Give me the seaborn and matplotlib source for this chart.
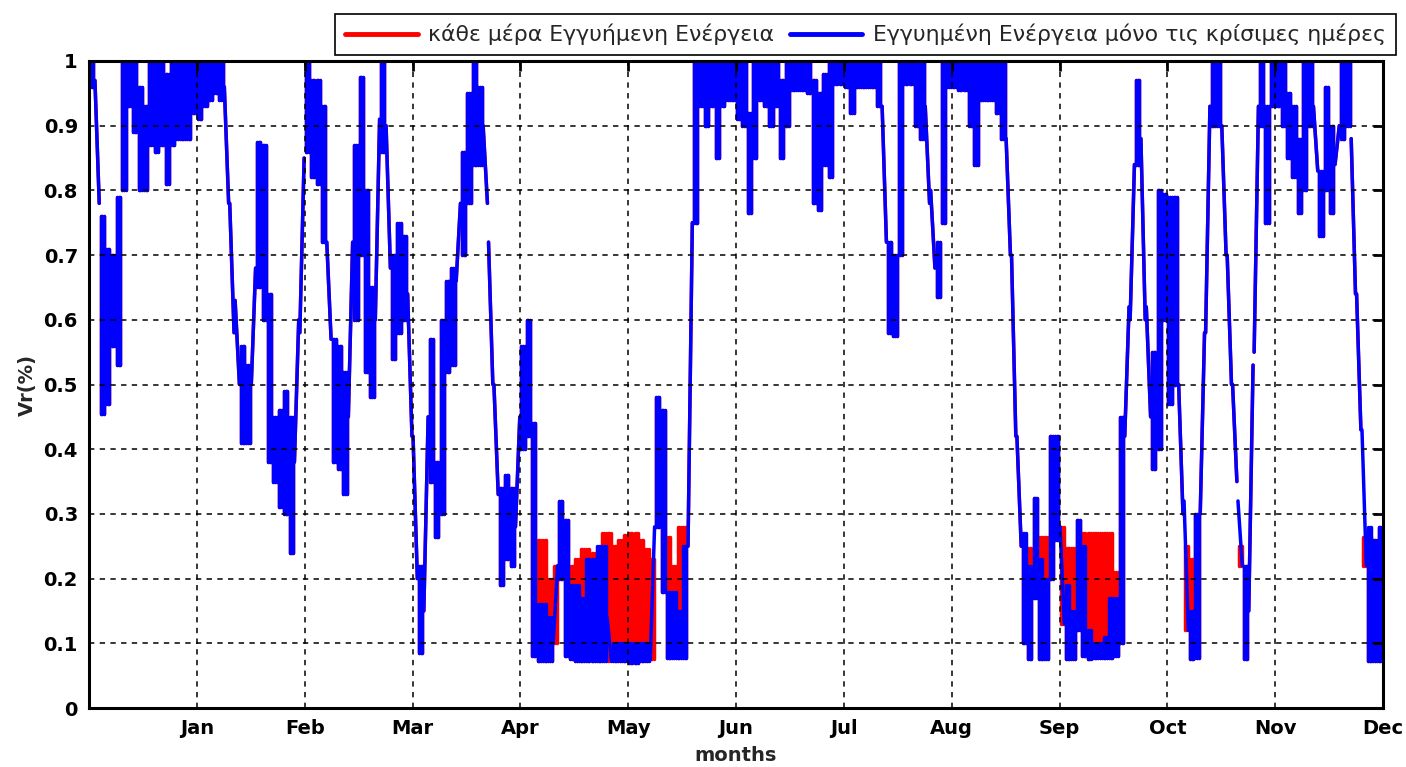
import numpy as np
import pandas as pd
import matplotlib
matplotlib.use("Agg")
import matplotlib.pyplot as plt
import seaborn as sns

# ---------------- data ----------------
months = ['Jan', 'Feb', 'Mar', 'Apr', 'May', 'Jun',
          'Jul', 'Aug', 'Sep', 'Oct', 'Nov', 'Dec']
month_ticks = [1, 2, 3, 4, 5, 6, 7, 8, 9, 10, 11, 12]
y_ticks = [0, 0.1, 0.2, 0.3, 0.4, 0.5, 0.6, 0.7, 0.8, 0.9, 1.0]
y_tick_labels = ['0', '0.1', '0.2', '0.3', '0.4', '0.5', '0.6', '0.7', '0.8', '0.9', '1']

label_red = 'κάθε μέρα Εγγυήμενη Ενέργεια'
label_blue = 'Εγγυημένη Ενέργεια μόνο τις κρίσιμες ημέρες'

bin_width = 0.05  # months per reading bin

# upper envelope of the blue trace in each 0.05-month bin
blue_hi = [
    1.0, 0.97, 0.76, 0.71, 0.70, 0.79, 1.0, 1.0, 1.0, 0.96, 0.93, 1.0, 1.0, 1.0, 0.98, 1.0, 1.0, 1.0, 1.0, 1.0,
    1.0, 1.0, 1.0, 1.0, 1.0, 0.96, 0.78, 0.63, 0.56, 0.53, 0.68, 0.875, 0.87, 0.64, 0.45, 0.46, 0.49, 0.45, 0.6, 0.85,
    1.0, 0.97, 0.97, 0.93, 0.72, 0.57, 0.56, 0.52, 0.72, 0.87, 0.975, 0.8, 0.65, 0.91, 1.0, 0.9, 0.7, 0.75, 0.73, 0.64,
    0.42, 0.22, 0.45, 0.57, 0.38, 0.6, 0.66, 0.68, 0.78, 0.86, 0.95, 1.0, 0.96, 0.9, 0.72, 0.5, 0.34, 0.36, 0.34, 0.45,
    0.56, 0.6, 0.44, 0.16, 0.16, 0.14, 0.22, 0.32, 0.29, 0.19, 0.19, 0.17, 0.23, 0.23, 0.25, 0.25, 0.14, 0.1, 0.1, 0.1,
    0.1, 0.1, 0.1, 0.1, 0.28, 0.48, 0.46, 0.18, 0.18, 0.15, 0.25, 0.75, 1.0, 1.0, 1.0, 1.0, 1.0, 1.0, 1.0, 1.0,
    1.0, 1.0, 0.92, 1.0, 1.0, 1.0, 1.0, 1.0, 0.97, 1.0, 1.0, 1.0, 1.0, 1.0, 0.97, 0.95, 0.98, 1.0, 1.0, 1.0,
    1.0, 1.0, 1.0, 1.0, 1.0, 1.0, 1.0, 0.93, 0.72, 0.7, 1.0, 1.0, 1.0, 1.0, 1.0, 0.93, 0.8, 0.72, 1.0, 1.0,
    1.0, 1.0, 1.0, 1.0, 1.0, 1.0, 1.0, 1.0, 1.0, 1.0, 0.88, 0.7, 0.42, 0.27, 0.22, 0.325, 0.23, 0.2, 0.42, 0.42,
    0.28, 0.19, 0.15, 0.29, 0.25, 0.12, 0.1, 0.1, 0.11, 0.17, 0.17, 0.45, 0.62, 0.84, 0.97, 0.88, 0.62, 0.55, 0.8, 0.795,
    0.79, 0.79, 0.5, 0.32, 0.15, 0.3, 0.58, 0.93, 1.0, 1.0, 0.9, 0.7, 0.5, 0.32, 0.22, 0.53, 0.93, 1.0, 0.93, 1.0,
    1.0, 1.0, 0.95, 0.93, 0.88, 1.0, 1.0, 0.93, 0.83, 0.96, 0.9, 0.9, 1.0, 1.0, 0.88, 0.64, 0.43, 0.28, 0.26, 0.28,
]

# lower envelope of the blue trace in each bin
blue_lo = [
    0.96, 0.78, 0.455, 0.47, 0.56, 0.53, 0.8, 0.93, 0.89, 0.8, 0.8, 0.87, 0.86, 0.87, 0.81, 0.87, 0.88, 0.88, 0.88, 0.92,
    0.91, 0.93, 0.94, 0.95, 0.94, 0.78, 0.58, 0.5, 0.41, 0.41, 0.5, 0.65, 0.6, 0.38, 0.35, 0.31, 0.3, 0.24, 0.38, 0.58,
    0.86, 0.82, 0.81, 0.72, 0.57, 0.38, 0.37, 0.33, 0.45, 0.6, 0.7, 0.52, 0.48, 0.6, 0.86, 0.68, 0.54, 0.58, 0.6, 0.42,
    0.2, 0.085, 0.15, 0.35, 0.265, 0.3, 0.52, 0.53, 0.66, 0.7, 0.78, 0.84, 0.84, 0.78, 0.5, 0.33, 0.19, 0.23, 0.22, 0.28,
    0.4, 0.42, 0.08, 0.072, 0.072, 0.072, 0.1, 0.2, 0.08, 0.075, 0.072, 0.072, 0.072, 0.072, 0.072, 0.072, 0.072, 0.072, 0.072, 0.072,
    0.07, 0.07, 0.072, 0.072, 0.075, 0.28, 0.18, 0.078, 0.078, 0.078, 0.078, 0.25, 0.75, 0.93, 0.9, 0.93, 0.85, 0.93, 0.94, 0.94,
    0.91, 0.9, 0.765, 0.85, 0.94, 0.93, 0.9, 0.93, 0.85, 0.9, 0.955, 0.955, 0.955, 0.95, 0.78, 0.77, 0.84, 0.82, 0.965, 0.965,
    0.96, 0.92, 0.96, 0.96, 0.96, 0.96, 0.93, 0.72, 0.58, 0.575, 0.7, 0.965, 0.965, 0.9, 0.88, 0.78, 0.68, 0.635, 0.75, 0.96,
    0.96, 0.955, 0.955, 0.9, 0.84, 0.94, 0.94, 0.94, 0.92, 0.88, 0.7, 0.42, 0.25, 0.1, 0.075, 0.17, 0.075, 0.075, 0.2, 0.26,
    0.13, 0.075, 0.075, 0.12, 0.08, 0.075, 0.078, 0.078, 0.078, 0.078, 0.08, 0.1, 0.42, 0.6, 0.84, 0.6, 0.45, 0.37, 0.4, 0.6,
    0.47, 0.5, 0.3, 0.12, 0.075, 0.078, 0.3, 0.58, 0.9, 0.9, 0.7, 0.5, 0.35, 0.22, 0.075, 0.15, 0.55, 0.9, 0.75, 0.93,
    0.93, 0.9, 0.85, 0.82, 0.765, 0.8, 0.9, 0.83, 0.73, 0.8, 0.765, 0.84, 0.88, 0.9, 0.64, 0.43, 0.22, 0.072, 0.072, 0.072,
]

# bins where the red trace rises above the blue one, and its upper envelope there
red_bins = [83, 84, 85,
            89, 90, 91, 92, 93, 94, 95, 96, 97, 98, 99, 100, 101, 102, 103, 104,
            107, 108, 109, 110,
            173, 174, 176, 177, 181, 182, 184, 185, 186, 187, 188, 189, 190,
            203, 204, 213, 236, 237]
red_hi = [0.26, 0.26, 0.2,
          0.22, 0.23, 0.245, 0.245, 0.24, 0.24, 0.27, 0.27, 0.25, 0.26, 0.267, 0.27, 0.27, 0.26, 0.245, 0.23,
          0.265, 0.22, 0.28, 0.28,
          0.247, 0.247, 0.265, 0.265, 0.247, 0.247, 0.27, 0.27, 0.27, 0.27, 0.27, 0.27, 0.21,
          0.25, 0.23, 0.25, 0.265, 0.265]

# ---------------- build long-form table ----------------
def strokes(hi, lo, tol=0.015, min_span=0.06):
    """Bins the trace just passes through -> one sloped stroke;
    bins where the hourly values oscillate -> closely spaced vertical strokes."""
    n = len(hi)
    xs, ys, us = [], [], []
    uid = 0
    for k in range(n):
        p = (hi[max(k - 1, 0)] + lo[max(k - 1, 0)]) / 2
        q = (hi[min(k + 1, n - 1)] + lo[min(k + 1, n - 1)]) / 2
        span_ok = (hi[k] - lo[k]) >= min_span and 0 < k < n - 1
        going_down = span_ok and p >= hi[k] - tol and q <= lo[k] + tol
        going_up = span_ok and p <= lo[k] + tol and q >= hi[k] - tol
        if going_down or going_up:
            a, b = (hi[k], lo[k]) if going_down else (lo[k], hi[k])
            xs += [bin_width * (k + 0.1), bin_width * (k + 0.9)]
            ys += [a, b]
            us += [uid, uid]
            uid += 1
        else:
            for off in (0.2, 0.5, 0.8):
                xs += [bin_width * (k + off)] * 2
                ys += [hi[k], lo[k]]
                us += [uid, uid]
                uid += 1
    return xs, ys, us

red_hi_full = list(blue_hi)
for b, v in zip(red_bins, red_hi):
    red_hi_full[b] = v
red_lo_full = list(blue_lo)

rx, ry, ru = strokes(red_hi_full, red_lo_full)
bx, by, bu = strokes(blue_hi, blue_lo)
df = pd.concat([
    pd.DataFrame({'month': rx, 'vr': ry, 'stroke': ru, 'series': label_red}),
    pd.DataFrame({'month': bx, 'vr': by, 'stroke': bu, 'series': label_blue}),
], ignore_index=True)

# ---------------- plot ----------------
sns.set_style('white')
plt.rcParams['font.family'] = ['DejaVu Sans']
plt.rcParams['path.simplify'] = False

fig = plt.figure(figsize=(14.06, 7.67), dpi=100)
ax = fig.add_axes([89 / 1406, 1 - 708 / 767, (1383 - 89) / 1406, (708 - 61) / 767])

sns.lineplot(data=df, x='month', y='vr', hue='series', units='stroke',
             hue_order=[label_red, label_blue],
             palette={label_red: '#ff0000', label_blue: '#0000ff'},
             estimator=None, sort=False, linewidth=2.5, ax=ax)

ax.set_xlim(0, 12)
ax.set_ylim(0, 1)
ax.set_xticks(month_ticks)
ax.set_xticklabels(months)
ax.set_yticks(y_ticks)
ax.set_yticklabels(y_tick_labels)
for lab in ax.get_xticklabels() + ax.get_yticklabels():
    lab.set_fontweight('bold')
    lab.set_fontsize(14)

ax.grid(True, color='black', linestyle=(0, (3.5, 3.5)), linewidth=1.1)
ax.set_axisbelow(False)
ax.tick_params(direction='in', length=7, width=2, top=True, right=True,
               colors='black', pad=8)
for sp in ax.spines.values():
    sp.set_color('black')
    sp.set_linewidth(2.2)

ax.set_xlabel('months', fontsize=14, fontweight='bold')
ax.set_ylabel('Vr(%)', fontsize=14, fontweight='bold')
ax.xaxis.set_label_coords(0.5, -0.058)
ax.yaxis.set_label_coords(-0.040, 0.5)

handles, labels = ax.get_legend_handles_labels()
if ax.get_legend() is not None:
    ax.get_legend().remove()
leg = ax.legend(handles, labels, loc='upper right', ncol=2,
                bbox_to_anchor=(1396 / 1406, 1 - 14 / 767), bbox_transform=fig.transFigure,
                frameon=True, fancybox=False, edgecolor='black', framealpha=1,
                fontsize=15.8, handlelength=3.3, handletextpad=0.5, columnspacing=0.7,
                borderpad=0.45, borderaxespad=0)
leg.get_frame().set_linewidth(1.2)
for h in leg.get_lines():
    h.set_linewidth(3.5)

fig.savefig('out.png', dpi=100)
